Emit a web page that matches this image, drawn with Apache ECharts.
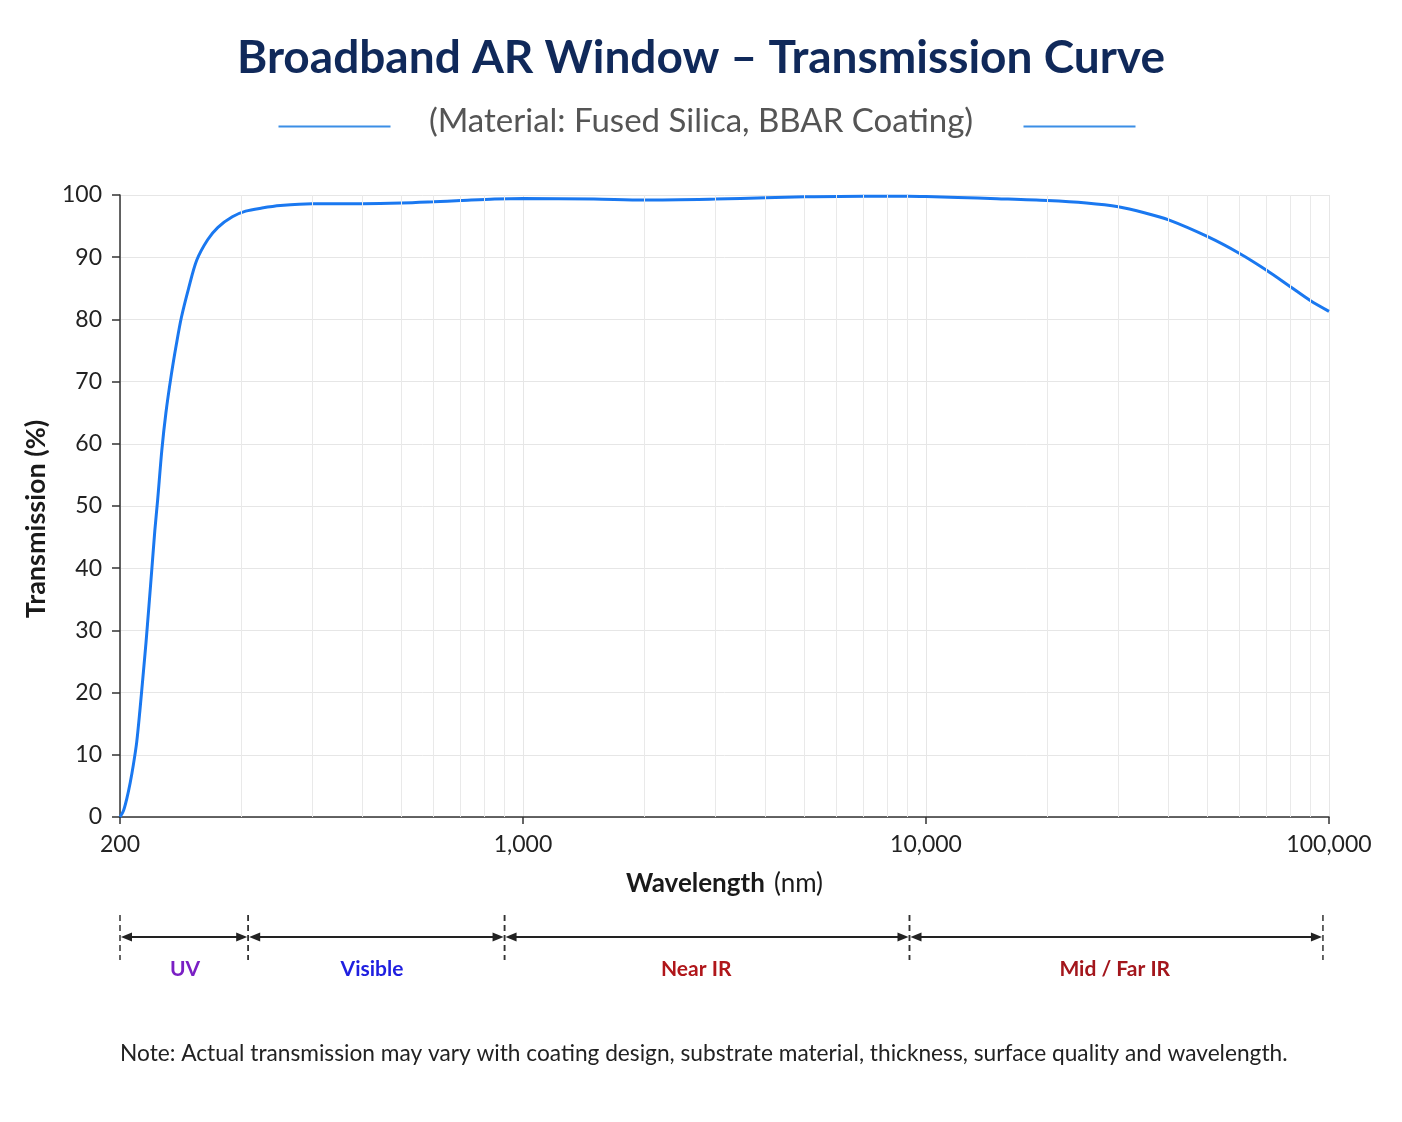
<!DOCTYPE html>
<html>
<head>
<meta charset="utf-8">
<title>Broadband AR Window – Transmission Curve</title>
<script src="https://cdn.jsdelivr.net/npm/echarts@6/dist/echarts.min.js"></script>
<style>
  html, body { margin: 0; padding: 0; background: #fff; }
  #chart { width: 1402px; height: 1122px; }
</style>
</head>
<body>
<div id="chart"></div>
<script>
// wavelength positions on the log axis and transmission (%)
const wavelengths = [100, 102, 104, 106, 108, 110, 112, 114, 116, 118, 120, 122, 124, 127, 130, 134, 138, 142, 148, 155, 165, 175, 190, 205, 225, 250, 300, 400, 500, 600, 700, 850, 1000, 1500, 2000, 3000, 4000, 5000, 7000, 9000, 10000, 12000, 15000, 20000, 25000, 30000, 35000, 40000, 50000, 60000, 70000, 80000, 90000, 100000];
const transmission = [0, 1, 3, 5.5, 8.5, 12, 17, 22.5, 28, 34, 40, 46, 51, 59, 65, 71, 76, 80.3, 85, 89.5, 92.8, 94.8, 96.5, 97.4, 97.9, 98.3, 98.6, 98.6, 98.7, 98.9, 99.1, 99.35, 99.45, 99.35, 99.2, 99.35, 99.55, 99.7, 99.8, 99.8, 99.75, 99.6, 99.4, 99.1, 98.7, 98.1, 97.1, 96.0, 93.3, 90.6, 87.9, 85.3, 83.0, 81.3];

// tick labels as printed under the axis
const xTickLabels = ['200', '1,000', '10,000', '100,000'];
// minor grid lines inside each decade
const minorLines = [200, 300, 400, 500, 600, 700, 800, 900, 2000, 3000, 4000, 5000, 6000, 7000, 8000, 9000, 20000, 30000, 40000, 50000, 60000, 70000, 80000, 90000];

// spectral regions below the chart (edges and label spots on the same axis)
const bandEdges = [100, 208, 900, 9100, 96600];
const bandLabelAt = [145, 422, 2690, 29400];
const bandNames = ['UV', 'Visible', 'Near IR', 'Mid / Far IR'];
const bandColors = ['#7a1fc4', '#1f1fe0', '#b0161a', '#a3161c'];

const FONT = 'Lato, "Noto Sans", sans-serif';
const chart = echarts.init(document.getElementById('chart'), null, { renderer: 'canvas' });

const lineData = wavelengths.map((w, i) => [w, transmission[i]]);
const bandData = bandNames.map((n, i) => [bandEdges[i], bandEdges[i + 1], bandLabelAt[i]]);

function renderBand(params, api) {
  const p0 = api.coord([api.value(0), 0]);
  const p1 = api.coord([api.value(1), 0]);
  const pl = api.coord([api.value(2), 0]);
  const x0 = p0[0];
  const x1 = p1[0];
  const base = p0[1];
  const ay = base + 120;
  const ink = '#222';
  const dash = { stroke: '#333', lineWidth: 1.5, lineDash: [6, 4] };
  return {
    type: 'group',
    children: [
      { type: 'line', shape: { x1: x0, y1: base + 98, x2: x0, y2: base + 143 }, style: dash },
      { type: 'line', shape: { x1: x1, y1: base + 98, x2: x1, y2: base + 143 }, style: dash },
      { type: 'line', shape: { x1: x0 + 4, y1: ay, x2: x1 - 4, y2: ay }, style: { stroke: ink, lineWidth: 2 } },
      { type: 'polygon', shape: { points: [[x0 + 1, ay], [x0 + 12, ay - 4.5], [x0 + 12, ay + 4.5]] }, style: { fill: ink } },
      { type: 'polygon', shape: { points: [[x1 - 1, ay], [x1 - 12, ay - 4.5], [x1 - 12, ay + 4.5]] }, style: { fill: ink } },
      {
        type: 'text',
        style: {
          x: pl[0],
          y: base + 152,
          text: bandNames[params.dataIndex],
          fill: bandColors[params.dataIndex],
          font: 'bold 21px ' + FONT,
          align: 'center',
          verticalAlign: 'middle'
        }
      }
    ]
  };
}

const option = {
  backgroundColor: '#ffffff',
  animation: false,
  textStyle: { fontFamily: FONT },
  title: [
    {
      text: 'Broadband AR Window – Transmission Curve',
      left: 'center',
      top: 30,
      textStyle: { fontSize: 46, fontWeight: 'bold', color: '#10295a', fontFamily: FONT }
    },
    {
      text: '(Material: Fused Silica, BBAR Coating)',
      left: 'center',
      top: 100,
      textStyle: { fontSize: 33, fontWeight: 'normal', color: '#555555', fontFamily: FONT }
    }
  ],
  graphic: [
    { type: 'line', left: 276, top: 124, shape: { x1: 0, y1: 0, x2: 112, y2: 0 }, style: { stroke: '#3b8ee6', lineWidth: 2 } },
    { type: 'line', left: 1021, top: 124, shape: { x1: 0, y1: 0, x2: 112, y2: 0 }, style: { stroke: '#3b8ee6', lineWidth: 2 } },
    {
      type: 'text',
      left: 120,
      top: 1042,
      style: {
        text: 'Note: Actual transmission may vary with coating design, substrate material, thickness, surface quality and wavelength.',
        font: '22.7px ' + FONT,
        fill: '#222'
      }
    }
  ],
  grid: { left: 120, right: 73, top: 195, bottom: 305, containLabel: false },
  xAxis: {
    type: 'log',
    logBase: 10,
    min: 100,
    max: 100000,
    name: '{b|Wavelength} {n|(nm)}',
    nameLocation: 'middle',
    nameGap: 54,
    nameTextStyle: {
      rich: {
        b: { fontSize: 26, fontWeight: 'bold', color: '#1a1a1a', fontFamily: FONT, padding: [0, 6, 0, 0] },
        n: { fontSize: 26, color: '#1a1a1a', fontFamily: FONT }
      }
    },
    axisLine: { show: true, lineStyle: { color: '#333', width: 1.5 } },
    axisTick: { show: true, length: 7, lineStyle: { color: '#333', width: 1.5 } },
    axisLabel: {
      margin: 16,
      fontSize: 23,
      color: '#222',
      fontFamily: FONT,
      formatter: (v, i) => xTickLabels[i] || ''
    },
    splitLine: { show: true, lineStyle: { color: '#e6e6e6', width: 1 } },
    minorTick: { show: false },
    minorSplitLine: { show: false }
  },
  yAxis: {
    type: 'value',
    min: 0,
    max: 100,
    interval: 10,
    name: 'Transmission (%)',
    nameLocation: 'middle',
    nameGap: 70,
    nameTextStyle: { fontSize: 27, fontWeight: 'bold', color: '#1a1a1a', fontFamily: FONT, padding: [0, 26, 0, 0] },
    axisLine: { show: true, lineStyle: { color: '#333', width: 1.5 } },
    axisTick: { show: true, length: 8, lineStyle: { color: '#333', width: 1.5 } },
    axisLabel: { margin: 18, fontSize: 23, color: '#222', fontFamily: FONT },
    splitLine: { show: true, lineStyle: { color: '#e6e6e6', width: 1 } }
  },
  series: [
    {
      name: 'minor grid',
      type: 'line',
      data: [],
      z: 1,
      silent: true,
      markLine: {
        silent: true,
        symbol: 'none',
        label: { show: false },
        lineStyle: { color: '#e9e9e9', width: 1, type: 'solid' },
        data: minorLines.map((v) => ({ xAxis: v }))
      }
    },
    {
      name: 'Transmission',
      type: 'line',
      data: lineData,
      z: 3,
      smooth: 0.3,
      showSymbol: false,
      symbol: 'none',
      lineStyle: { color: '#1a78f0', width: 3 }
    },
    {
      name: 'regions',
      type: 'custom',
      clip: false,
      silent: true,
      encode: { x: [0, 1, 2] },
      data: bandData,
      renderItem: renderBand
    }
  ]
};

chart.setOption(option);
</script>
</body>
</html>
